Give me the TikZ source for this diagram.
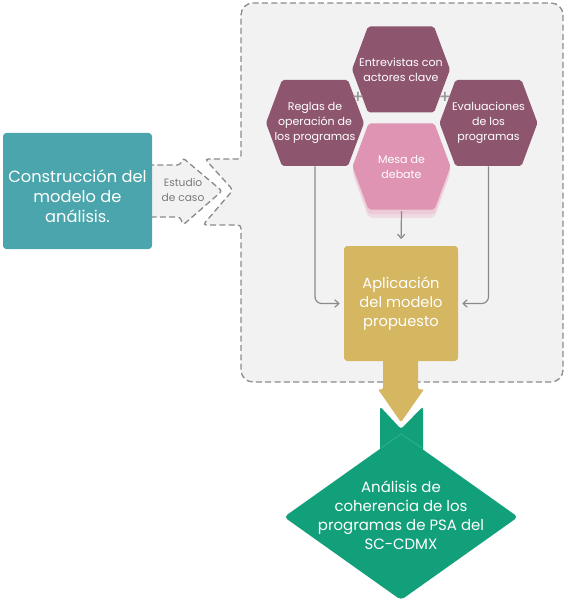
\documentclass[tikz,border=0pt]{standalone}
\usepackage{fontspec}
\setmainfont{Poppins}
\newfontfamily\plusfont{DejaVu Sans}
\usetikzlibrary{calc,shapes.geometric,arrows.meta}
\definecolor{tealc}{HTML}{4AA6AC}
\definecolor{mauvec}{HTML}{8E566E}
\definecolor{pinkc}{HTML}{DE94B2}
\definecolor{pinkglow}{HTML}{EDC0D2}
\definecolor{goldc}{HTML}{D5B661}
\definecolor{greenc}{HTML}{12A07A}
\definecolor{greenl}{HTML}{34B08E}
\definecolor{boxfill}{HTML}{F2F2F2}
\definecolor{dashc}{HTML}{8C8C8C}
\definecolor{connc}{HTML}{8A8A8A}
\definecolor{estc}{HTML}{7A7A7A}
\definecolor{plusc}{HTML}{999999}
\newcommand\hexfont{\fontsize{8.3}{11.25}\selectfont}
\tikzset{
  dashbox/.style={fill=boxfill, draw=dashc, line width=1pt, dash pattern=on 4.5pt off 2.5pt},
  hexa/.style={minimum width=73.5pt, minimum height=64.5pt, inner sep=0pt, text=white,
    align=center, font=\hexfont,
    path picture={\fill[#1,rounded corners=1.5pt] (path picture bounding box.west)
      -- ([xshift=12pt]path picture bounding box.north west)
      -- ([xshift=-12pt]path picture bounding box.north east)
      -- (path picture bounding box.east)
      -- ([xshift=-12pt]path picture bounding box.south east)
      -- ([xshift=12pt]path picture bounding box.south west) -- cycle;}},
  conn/.style={draw=connc, line width=0.9pt, rounded corners=5pt,
    -{Straight Barb[length=3pt,width=5.5pt]}},
  plussign/.style={text=plusc, font=\plusfont\bfseries\fontsize{11}{11}\selectfont, inner sep=0pt},
}
\begin{document}
\begin{tikzpicture}[x=0.75pt,y=-0.75pt]
\useasboundingbox (0,0) rectangle (567,602);
% big dashed container with notch
\filldraw[dashbox] (241,140) [rounded corners=9pt] -- (241,3) -- (563,3) -- (563,382)
  -- (241,382) -- (241,300) [rounded corners=2.5pt] -- (241,225) -- (203,225)
  -- (233,190) -- (205,159) -- (241,159) -- cycle;
% Estudio de caso arrow
\filldraw[dashbox, rounded corners=2pt] (148,165) -- (180,165) -- (183,158) -- (222,191)
  -- (183,225) -- (180,217) -- (148,217);
\node[text=estc, align=center, font=\fontsize{8}{11}\selectfont, inner sep=0pt] (est) at (183,190) {Estudio\\de caso};
% teal box
\node[fill=tealc, rounded corners=2.5pt, minimum width=111.75pt, minimum height=87pt, inner sep=0pt] (cons) at (77.5,191) {};
\node[text=white, align=center, font=\fontsize{12.2}{15}\selectfont, inner sep=0pt] (constext) at (77.5,196) {Construcción del\\modelo de\\análisis.};
% hexagons
\node[hexa=mauvec] (reglas) at (315,123) {Reglas de\\operación de\\los programas};
\node[hexa=mauvec] (entre) at (401,69.5) {Entrevistas con\\actores clave};
\node[hexa=mauvec] (evalu) at (488.5,123) {Evaluaciones\\de los\\programas};
\fill[pinkglow, opacity=0.45, rounded corners=3pt] (352.5,173) -- (368.5,130.5) -- (434.5,130.5)
  -- (450.5,173) -- (434.5,218) -- (368.5,218) -- cycle;
\fill[pinkglow, opacity=0.6, rounded corners=2pt] (352.5,170) -- (368.5,128) -- (434.5,128)
  -- (450.5,170) -- (434.5,214) -- (368.5,214) -- cycle;
\node[hexa=pinkc] (mesa) at (401.5,166.5) {Mesa de\\debate};
\node[plussign] (plus1) at (358,97) {+};
\node[plussign] (plus2) at (445,97) {+};
% application box
\node[fill=goldc, rounded corners=2.5pt, minimum width=85.5pt, minimum height=86.25pt,
  inner sep=0pt, text=white, align=center, font=\fontsize{11}{14.25}\selectfont] (apl) at (401,303.5)
  {Aplicación\\del modelo\\propuesto};
% connectors
\draw[conn, shorten >=3pt] (reglas.south) |- (apl.west);
\draw[conn, shorten >=3pt] (evalu.south) |- (apl.east);
\draw[conn, shorten >=5pt, shorten <=1pt] (mesa.south) -- (apl.north);
% gold block arrow
\fill[goldc, rounded corners=1pt] ($(apl.south)+(-18,-2)$) -- ($(apl.south)+(-18,28)$)
  -- ($(apl.south)+(-23,28)$) -- ($(apl.south)+(0,61)$) -- ($(apl.south)+(23,28)$)
  -- ($(apl.south)+(17,28)$) -- ($(apl.south)+(17,-2)$) -- cycle;
% green diamond with notched tab
\fill[greenc, rounded corners=3pt] (401,434) -- (284,517) -- (401,600) -- (518,517) -- cycle;
\fill[greenc, rounded corners=2pt] (401,429) -- (380,406.5) -- (380,460) -- (423,460) -- (423,406.5) -- cycle;
\draw[greenl, line width=0.6pt] (381,448) -- (401,434) -- (422,448);
\node[text=white, align=center, font=\fontsize{11.2}{14.25}\selectfont, inner sep=0pt] (ana) at (401,515)
  {Análisis de\\coherencia de los\\programas de PSA del\\SC-CDMX};
\end{tikzpicture}
\end{document}
